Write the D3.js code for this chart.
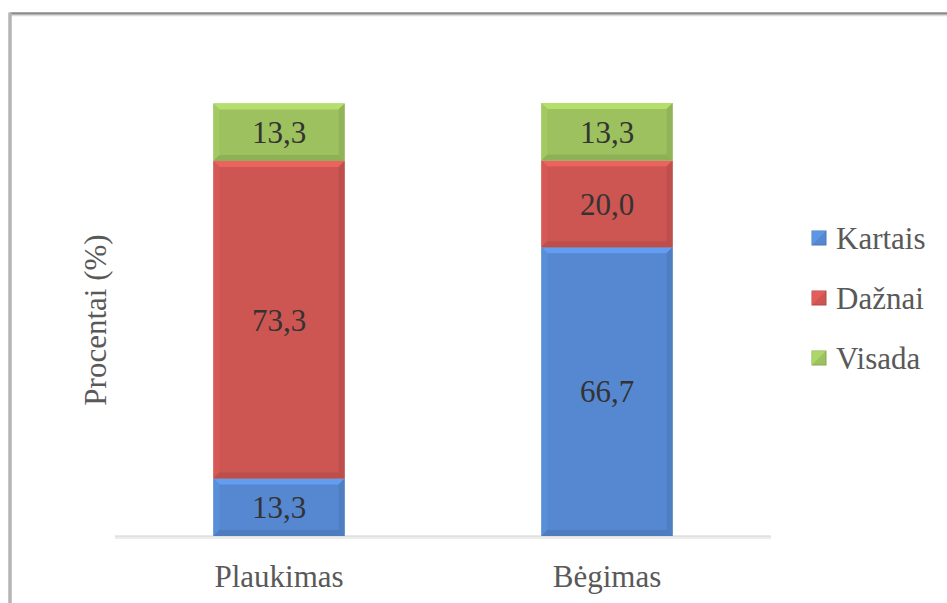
<!DOCTYPE html>
<html>
<head>
<meta charset="utf-8">
<script src="https://cdn.jsdelivr.net/npm/d3@7"></script>
<style>
html,body{margin:0;padding:0;background:#fff;}
svg{display:block;}
</style>
</head>
<body>
<svg id="chart" width="947" height="603" font-family="'Liberation Serif', 'Times New Roman', Tinos, 'DejaVu Serif', serif"></svg>
<script>
const categories = ["Plaukimas", "Bėgimas"];
const seriesNames = ["Kartais", "Dažnai", "Visada"];
const kartais = [13.3, 66.7];
const daznai = [73.3, 20.0];
const visada = [13.3, 13.3];
const seriesColors = ["#5588d0", "#cd5552", "#9cc15e"];
const yAxisTitle = "Procentai (%)";

const svg = d3.select("#chart");
const W = 947, H = 603;

// frame
svg.append("line").attr("x1", 10).attr("x2", W + 5).attr("y1", 13.5).attr("y2", 13.5)
  .attr("stroke", "#8a8a8a").attr("stroke-width", 2.5);
svg.append("line").attr("x1", 10).attr("x2", W + 5).attr("y1", 15.5).attr("y2", 15.5)
  .attr("stroke", "#dcdcdc").attr("stroke-width", 1.5);
svg.append("line").attr("x1", 10).attr("x2", 10).attr("y1", 12.5).attr("y2", H + 5)
  .attr("stroke", "#b4b4b4").attr("stroke-width", 3.5);

const x = d3.scaleBand().domain(categories).range([115, 771]).paddingInner(0.6).paddingOuter(0.3);
const y = d3.scaleLinear().domain([0, 100]).range([536, 103]);

const seriesData = [kartais, daznai, visada];
const table = categories.map((c, i) => {
  const o = {cat: c};
  seriesNames.forEach((s, j) => o[s] = seriesData[j][i]);
  return o;
});
const stacked = d3.stack().keys(seriesNames)(table);

// baseline
svg.append("line").attr("x1", x.range()[0]).attr("x2", x.range()[1])
  .attr("y1", y(0) + 1.5).attr("y2", y(0) + 1.5).attr("stroke", "#ececec").attr("stroke-width", 3);
svg.append("line").attr("x1", x.range()[0]).attr("x2", x.range()[1])
  .attr("y1", y(0)).attr("y2", y(0)).attr("stroke", "#d4d4d4").attr("stroke-width", 1.2);

const bev = 6;
stacked.forEach((layer, si) => {
  const base = d3.color(seriesColors[si]);
  const g = svg.append("g");
  layer.forEach((d, i) => {
    const x0 = x(categories[i]), w = x.bandwidth();
    const y0 = y(d[1]), y1 = y(d[0]);
    g.append("rect").attr("x", x0).attr("y", y0).attr("width", w).attr("height", y1 - y0).attr("fill", base.formatHex());
    g.append("polygon").attr("points", [[x0, y0], [x0 + w, y0], [x0 + w - bev, y0 + bev], [x0 + bev, y0 + bev]].join(" "))
      .attr("fill", base.brighter(0.4).formatHex());
    g.append("polygon").attr("points", [[x0, y0], [x0 + bev, y0 + bev], [x0 + bev, y1 - bev], [x0, y1]].join(" "))
      .attr("fill", base.brighter(0.12).formatHex());
    g.append("polygon").attr("points", [[x0 + w, y0], [x0 + w, y1], [x0 + w - bev, y1 - bev], [x0 + w - bev, y0 + bev]].join(" "))
      .attr("fill", base.darker(0.2).formatHex());
    g.append("polygon").attr("points", [[x0, y1], [x0 + bev, y1 - bev], [x0 + w - bev, y1 - bev], [x0 + w, y1]].join(" "))
      .attr("fill", base.darker(0.25).formatHex());
    g.append("text").attr("x", x0 + w / 2).attr("y", (y0 + y1) / 2).attr("dy", "0.35em")
      .attr("text-anchor", "middle").attr("font-size", 31).attr("fill", "#333333")
      .text(d3.format(".1f")(d.data[seriesNames[si]]).replace(".", ","));
  });
});

// category axis labels
svg.append("g").selectAll("text").data(categories).join("text")
  .attr("x", d => x(d) + x.bandwidth() / 2).attr("y", 587)
  .attr("text-anchor", "middle").attr("font-size", 31).attr("fill", "#595959")
  .text(d => d);

// y axis title
svg.append("text").attr("transform", "translate(106,320) rotate(-90)")
  .attr("text-anchor", "middle").attr("font-size", 31).attr("fill", "#595959")
  .text(yAxisTitle);

// legend
const legendY = [238, 298, 358];
const lg = svg.append("g");
seriesNames.forEach((s, i) => {
  const c = d3.color(seriesColors[i]);
  lg.append("rect").attr("x", 812).attr("y", legendY[i] - 7).attr("width", 14).attr("height", 14)
    .attr("fill", c.formatHex()).attr("stroke", c.darker(0.4).formatHex()).attr("stroke-width", 1);
  lg.append("polygon").attr("points", [[812, legendY[i] - 7], [826, legendY[i] - 7], [812, legendY[i] + 7]].join(" "))
    .attr("fill", c.brighter(0.4).formatHex()).attr("opacity", 0.7);
  lg.append("text").attr("x", 836).attr("y", legendY[i]).attr("dy", "0.35em")
    .attr("font-size", 31).attr("fill", "#595959").text(s);
});
</script>
</body>
</html>
